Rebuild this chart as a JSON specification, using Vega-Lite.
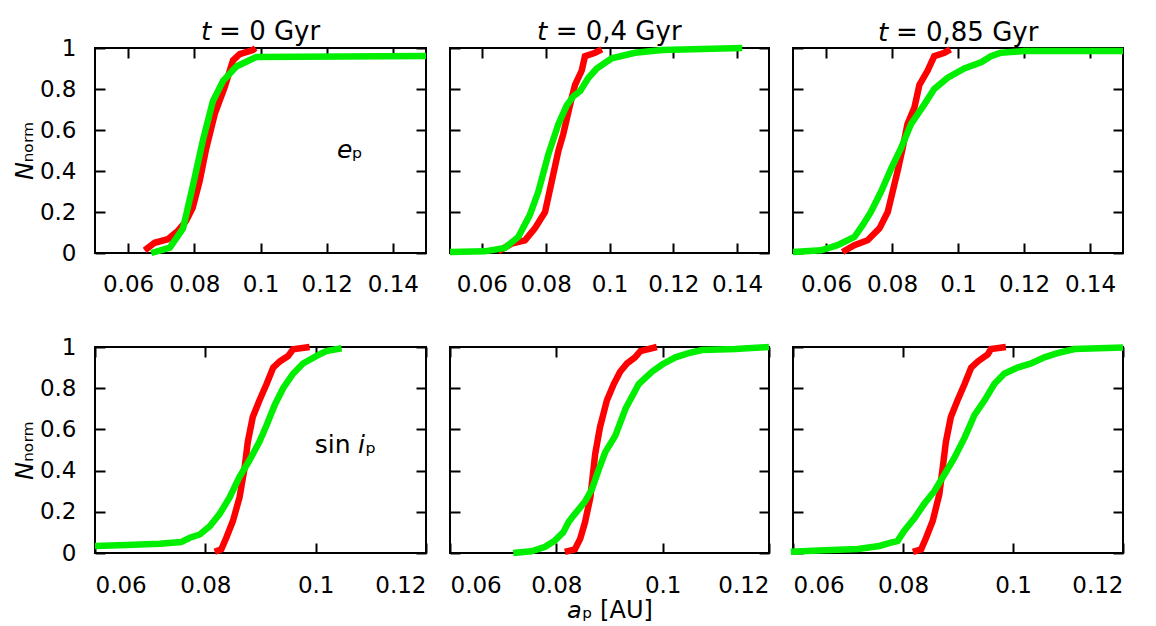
{
  "$schema": "https://vega.github.io/schema/vega-lite/v6.json",
  "background": "white",
  "padding": {"left": 12, "top": 18, "right": 5, "bottom": 5},
  "config": {
    "font": "DejaVu Sans",
    "view": {"stroke": "#000", "strokeWidth": 2},
    "axis": {"grid": false, "domain": false, "tickColor": "#000", "tickWidth": 2, "tickSize": -10, "labelFont": "DejaVu Sans", "labelFontSize": 23, "labelColor": "#000", "titleFont": "DejaVu Sans", "titleFontSize": 24, "titleFontWeight": "normal", "titleColor": "#000"},
    "title": {"font": "DejaVu Sans", "fontSize": 26, "fontWeight": "normal", "color": "#000", "offset": -10, "frame": "group", "baseline": "alphabetic"},
    "line": {"strokeWidth": 6.5, "clip": true, "strokeCap": "butt"},
    "text": {"font": "DejaVu Sans", "fontSize": 25, "color": "#000"}
  },
  "datasets": {
    "p1": [
      {"s":"r","x":0.065,"y":0.013},{"s":"r","x":0.068,"y":0.05},{"s":"r","x":0.072,"y":0.067},{"s":"r","x":0.075,"y":0.107},{"s":"r","x":0.0775,"y":0.156},{"s":"r","x":0.0795,"y":0.22},{"s":"r","x":0.0816,"y":0.35},{"s":"r","x":0.0836,"y":0.51},{"s":"r","x":0.0862,"y":0.68},{"s":"r","x":0.0892,"y":0.81},{"s":"r","x":0.0917,"y":0.94},{"s":"r","x":0.0937,"y":0.97},{"s":"r","x":0.0977,"y":0.99},{"s":"r","x":0.0985,"y":1.0},
      {"s":"g","x":0.067,"y":0.0},{"s":"g","x":0.0726,"y":0.026},{"s":"g","x":0.0766,"y":0.12},{"s":"g","x":0.0796,"y":0.33},{"s":"g","x":0.0826,"y":0.55},{"s":"g","x":0.0856,"y":0.74},{"s":"g","x":0.0887,"y":0.84},{"s":"g","x":0.0927,"y":0.91},{"s":"g","x":0.0987,"y":0.956},{"s":"g","x":0.15,"y":0.961}
    ],
    "p2": [
      {"s":"r","x":0.0651,"y":0.008},{"s":"r","x":0.0693,"y":0.046},{"s":"r","x":0.0735,"y":0.062},{"s":"r","x":0.0766,"y":0.12},{"s":"r","x":0.0798,"y":0.2},{"s":"r","x":0.0819,"y":0.35},{"s":"r","x":0.084,"y":0.5},{"s":"r","x":0.0855,"y":0.58},{"s":"r","x":0.087,"y":0.68},{"s":"r","x":0.0882,"y":0.76},{"s":"r","x":0.0892,"y":0.82},{"s":"r","x":0.0913,"y":0.89},{"s":"r","x":0.0923,"y":0.96},{"s":"r","x":0.0955,"y":0.977},{"s":"r","x":0.0976,"y":0.993},
      {"s":"g","x":0.05,"y":0.005},{"s":"g","x":0.0609,"y":0.008},{"s":"g","x":0.0672,"y":0.025},{"s":"g","x":0.0714,"y":0.078},{"s":"g","x":0.075,"y":0.185},{"s":"g","x":0.0777,"y":0.3},{"s":"g","x":0.0808,"y":0.48},{"s":"g","x":0.084,"y":0.63},{"s":"g","x":0.0866,"y":0.72},{"s":"g","x":0.0887,"y":0.765},{"s":"g","x":0.0908,"y":0.79},{"s":"g","x":0.0934,"y":0.855},{"s":"g","x":0.096,"y":0.9},{"s":"g","x":0.1007,"y":0.95},{"s":"g","x":0.108,"y":0.977},{"s":"g","x":0.1165,"y":0.99},{"s":"g","x":0.1416,"y":1.0}
    ],
    "p3": [
      {"s":"r","x":0.065,"y":0.005},{"s":"r","x":0.0686,"y":0.038},{"s":"r","x":0.0726,"y":0.062},{"s":"r","x":0.0762,"y":0.12},{"s":"r","x":0.0787,"y":0.2},{"s":"r","x":0.0802,"y":0.3},{"s":"r","x":0.0817,"y":0.4},{"s":"r","x":0.0832,"y":0.51},{"s":"r","x":0.0847,"y":0.63},{"s":"r","x":0.0868,"y":0.71},{"s":"r","x":0.0883,"y":0.82},{"s":"r","x":0.0908,"y":0.89},{"s":"r","x":0.0928,"y":0.96},{"s":"r","x":0.0959,"y":0.977},{"s":"r","x":0.0977,"y":0.993},
      {"s":"g","x":0.05,"y":0.005},{"s":"g","x":0.0585,"y":0.013},{"s":"g","x":0.0635,"y":0.038},{"s":"g","x":0.0686,"y":0.078},{"s":"g","x":0.0711,"y":0.136},{"s":"g","x":0.0736,"y":0.2},{"s":"g","x":0.0767,"y":0.3},{"s":"g","x":0.0797,"y":0.41},{"s":"g","x":0.0827,"y":0.51},{"s":"g","x":0.0858,"y":0.63},{"s":"g","x":0.0898,"y":0.725},{"s":"g","x":0.0928,"y":0.8},{"s":"g","x":0.0969,"y":0.855},{"s":"g","x":0.1019,"y":0.9},{"s":"g","x":0.107,"y":0.93},{"s":"g","x":0.11,"y":0.96},{"s":"g","x":0.113,"y":0.977},{"s":"g","x":0.1201,"y":0.985},{"s":"g","x":0.15,"y":0.985}
    ],
    "p4": [
      {"s":"r","x":0.0817,"y":0.006},{"s":"r","x":0.0829,"y":0.018},{"s":"r","x":0.0838,"y":0.074},{"s":"r","x":0.085,"y":0.155},{"s":"r","x":0.0862,"y":0.27},{"s":"r","x":0.0871,"y":0.41},{"s":"r","x":0.0877,"y":0.54},{"s":"r","x":0.0886,"y":0.66},{"s":"r","x":0.0898,"y":0.74},{"s":"r","x":0.0911,"y":0.82},{"s":"r","x":0.0923,"y":0.9},{"s":"r","x":0.0935,"y":0.93},{"s":"r","x":0.095,"y":0.956},{"s":"r","x":0.0959,"y":0.989},{"s":"r","x":0.0989,"y":1.0},
      {"s":"g","x":0.06,"y":0.034},{"s":"g","x":0.0657,"y":0.039},{"s":"g","x":0.0717,"y":0.045},{"s":"g","x":0.0756,"y":0.053},{"s":"g","x":0.0772,"y":0.074},{"s":"g","x":0.079,"y":0.09},{"s":"g","x":0.0808,"y":0.13},{"s":"g","x":0.0826,"y":0.19},{"s":"g","x":0.0844,"y":0.27},{"s":"g","x":0.0862,"y":0.37},{"s":"g","x":0.088,"y":0.45},{"s":"g","x":0.0898,"y":0.54},{"s":"g","x":0.0911,"y":0.62},{"s":"g","x":0.0926,"y":0.72},{"s":"g","x":0.0941,"y":0.8},{"s":"g","x":0.0959,"y":0.87},{"s":"g","x":0.0977,"y":0.92},{"s":"g","x":0.1001,"y":0.956},{"s":"g","x":0.1019,"y":0.98},{"s":"g","x":0.1047,"y":0.994}
    ],
    "p5": [
      {"s":"r","x":0.0816,"y":0.005},{"s":"r","x":0.0835,"y":0.018},{"s":"r","x":0.0845,"y":0.07},{"s":"r","x":0.0854,"y":0.15},{"s":"r","x":0.0864,"y":0.27},{"s":"r","x":0.0873,"y":0.48},{"s":"r","x":0.0882,"y":0.61},{"s":"r","x":0.0895,"y":0.74},{"s":"r","x":0.0908,"y":0.82},{"s":"r","x":0.092,"y":0.88},{"s":"r","x":0.0933,"y":0.92},{"s":"r","x":0.0948,"y":0.95},{"s":"r","x":0.0958,"y":0.98},{"s":"r","x":0.0989,"y":1.0},
      {"s":"g","x":0.0719,"y":0.0},{"s":"g","x":0.0753,"y":0.008},{"s":"g","x":0.0779,"y":0.03},{"s":"g","x":0.0797,"y":0.06},{"s":"g","x":0.0813,"y":0.1},{"s":"g","x":0.0823,"y":0.15},{"s":"g","x":0.0835,"y":0.19},{"s":"g","x":0.0854,"y":0.25},{"s":"g","x":0.0867,"y":0.31},{"s":"g","x":0.0879,"y":0.4},{"s":"g","x":0.0892,"y":0.49},{"s":"g","x":0.0911,"y":0.57},{"s":"g","x":0.093,"y":0.7},{"s":"g","x":0.0955,"y":0.82},{"s":"g","x":0.098,"y":0.88},{"s":"g","x":0.0999,"y":0.915},{"s":"g","x":0.1024,"y":0.95},{"s":"g","x":0.1049,"y":0.97},{"s":"g","x":0.1074,"y":0.985},{"s":"g","x":0.1137,"y":0.99},{"s":"g","x":0.12,"y":1.0}
    ],
    "p6": [
      {"s":"r","x":0.0818,"y":0.006},{"s":"r","x":0.0833,"y":0.018},{"s":"r","x":0.0842,"y":0.074},{"s":"r","x":0.0854,"y":0.155},{"s":"r","x":0.0866,"y":0.285},{"s":"r","x":0.0872,"y":0.41},{"s":"r","x":0.0878,"y":0.54},{"s":"r","x":0.0887,"y":0.66},{"s":"r","x":0.0899,"y":0.74},{"s":"r","x":0.0912,"y":0.82},{"s":"r","x":0.0924,"y":0.9},{"s":"r","x":0.0936,"y":0.93},{"s":"r","x":0.0954,"y":0.964},{"s":"r","x":0.096,"y":0.99},{"s":"r","x":0.0987,"y":1.0},
      {"s":"g","x":0.0596,"y":0.006},{"s":"g","x":0.0657,"y":0.013},{"s":"g","x":0.0718,"y":0.019},{"s":"g","x":0.0757,"y":0.034},{"s":"g","x":0.0778,"y":0.05},{"s":"g","x":0.079,"y":0.058},{"s":"g","x":0.0802,"y":0.107},{"s":"g","x":0.0821,"y":0.17},{"s":"g","x":0.0839,"y":0.24},{"s":"g","x":0.0857,"y":0.3},{"s":"g","x":0.0875,"y":0.38},{"s":"g","x":0.0893,"y":0.46},{"s":"g","x":0.0912,"y":0.56},{"s":"g","x":0.093,"y":0.67},{"s":"g","x":0.0948,"y":0.74},{"s":"g","x":0.0966,"y":0.82},{"s":"g","x":0.0984,"y":0.87},{"s":"g","x":0.1008,"y":0.9},{"s":"g","x":0.1033,"y":0.92},{"s":"g","x":0.1057,"y":0.95},{"s":"g","x":0.1081,"y":0.97},{"s":"g","x":0.1112,"y":0.99},{"s":"g","x":0.12,"y":0.997}
    ],
    "ann1": [{"label": "\ud835\ude26\u209a", "x": 0.127, "y": 0.463}],
    "ann4": [{"label": "sin \ud835\ude2a\u209a", "x": 0.1054, "y": 0.487}]
  },
  "bounds": "flush",
  "align": "each",
  "columns": 3,
  "spacing": {"row": 94, "column": 24},
  "concat": [
    {
      "width": 331, "height": 205,
      "title": {"text": "\ud835\ude35 = 0 Gyr"},
      "layer": [
        {"data": {"name": "p1"}, "transform": [{"filter": "datum.s === 'r'"}], "mark": {"type": "line", "color": "#ff0000"},
         "encoding": {"x": {"field": "x", "type": "quantitative", "scale": {"domain": [0.05, 0.15], "nice": false, "zero": false}, "axis": {"orient": "bottom", "values": [0.06, 0.08, 0.1, 0.12, 0.14], "format": ".2~f", "labelPadding": 30, "title": null}},
                      "y": {"field": "y", "type": "quantitative", "scale": {"domain": [0, 1], "nice": false}, "axis": {"orient": "left", "values": [0, 0.2, 0.4, 0.6, 0.8, 1], "format": ".1~f", "labelPadding": 29, "title": "\ud835\ude15\u2099\u2092\u1d63\u2098", "titlePadding": 2}}}},
        {"data": {"name": "p1"}, "transform": [{"filter": "datum.s === 'g'"}], "mark": {"type": "line", "color": "#00ee00"},
         "encoding": {"x": {"field": "x", "type": "quantitative", "scale": {"domain": [0.05, 0.15], "nice": false, "zero": false}, "axis": {"orient": "top", "values": [0.06, 0.08, 0.1, 0.12, 0.14], "labels": false, "title": null}},
                      "y": {"field": "y", "type": "quantitative", "scale": {"domain": [0, 1], "nice": false}, "axis": {"orient": "right", "values": [0, 0.2, 0.4, 0.6, 0.8, 1], "labels": false, "title": null}}}},
        {"data": {"name": "ann1"}, "mark": {"type": "text", "align": "center", "baseline": "alphabetic"},
         "encoding": {"x": {"field": "x", "type": "quantitative", "axis": null}, "y": {"field": "y", "type": "quantitative", "axis": null}, "text": {"field": "label"}}}
      ],
      "resolve": {"axis": {"x": "independent", "y": "independent"}}
    },
    {
      "width": 319, "height": 205,
      "title": {"text": "\ud835\ude35 = 0,4 Gyr"},
      "layer": [
        {"data": {"name": "p2"}, "transform": [{"filter": "datum.s === 'r'"}], "mark": {"type": "line", "color": "#ff0000"},
         "encoding": {"x": {"field": "x", "type": "quantitative", "scale": {"domain": [0.05, 0.15], "nice": false, "zero": false}, "axis": {"orient": "bottom", "values": [0.06, 0.08, 0.1, 0.12, 0.14], "format": ".2~f", "labelPadding": 30, "title": null}},
                      "y": {"field": "y", "type": "quantitative", "scale": {"domain": [0, 1], "nice": false}, "axis": {"orient": "left", "values": [0, 0.2, 0.4, 0.6, 0.8, 1], "labels": false, "title": null}}}},
        {"data": {"name": "p2"}, "transform": [{"filter": "datum.s === 'g'"}], "mark": {"type": "line", "color": "#00ee00"},
         "encoding": {"x": {"field": "x", "type": "quantitative", "scale": {"domain": [0.05, 0.15], "nice": false, "zero": false}, "axis": {"orient": "top", "values": [0.06, 0.08, 0.1, 0.12, 0.14], "labels": false, "title": null}},
                      "y": {"field": "y", "type": "quantitative", "scale": {"domain": [0, 1], "nice": false}, "axis": {"orient": "right", "values": [0, 0.2, 0.4, 0.6, 0.8, 1], "labels": false, "title": null}}}}
      ],
      "resolve": {"axis": {"x": "independent", "y": "independent"}}
    },
    {
      "width": 330, "height": 205,
      "title": {"text": "\ud835\ude35 = 0,85 Gyr"},
      "layer": [
        {"data": {"name": "p3"}, "transform": [{"filter": "datum.s === 'r'"}], "mark": {"type": "line", "color": "#ff0000"},
         "encoding": {"x": {"field": "x", "type": "quantitative", "scale": {"domain": [0.05, 0.15], "nice": false, "zero": false}, "axis": {"orient": "bottom", "values": [0.06, 0.08, 0.1, 0.12, 0.14], "format": ".2~f", "labelPadding": 30, "title": null}},
                      "y": {"field": "y", "type": "quantitative", "scale": {"domain": [0, 1], "nice": false}, "axis": {"orient": "left", "values": [0, 0.2, 0.4, 0.6, 0.8, 1], "labels": false, "title": null}}}},
        {"data": {"name": "p3"}, "transform": [{"filter": "datum.s === 'g'"}], "mark": {"type": "line", "color": "#00ee00"},
         "encoding": {"x": {"field": "x", "type": "quantitative", "scale": {"domain": [0.05, 0.15], "nice": false, "zero": false}, "axis": {"orient": "top", "values": [0.06, 0.08, 0.1, 0.12, 0.14], "labels": false, "title": null}},
                      "y": {"field": "y", "type": "quantitative", "scale": {"domain": [0, 1], "nice": false}, "axis": {"orient": "right", "values": [0, 0.2, 0.4, 0.6, 0.8, 1], "labels": false, "title": null}}}}
      ],
      "resolve": {"axis": {"x": "independent", "y": "independent"}}
    },
    {
      "width": 331, "height": 206,
      "layer": [
        {"data": {"name": "p4"}, "transform": [{"filter": "datum.s === 'r'"}], "mark": {"type": "line", "color": "#ff0000"},
         "encoding": {"x": {"field": "x", "type": "quantitative", "scale": {"domain": [0.06, 0.12], "nice": false, "zero": false}, "axis": {"orient": "bottom", "values": [0.06, 0.08, 0.1, 0.12], "format": ".2~f", "labelPadding": 31, "title": null}},
                      "y": {"field": "y", "type": "quantitative", "scale": {"domain": [0, 1], "nice": false}, "axis": {"orient": "left", "values": [0, 0.2, 0.4, 0.6, 0.8, 1], "format": ".1~f", "labelPadding": 29, "title": "\ud835\ude15\u2099\u2092\u1d63\u2098", "titlePadding": 2}}}},
        {"data": {"name": "p4"}, "transform": [{"filter": "datum.s === 'g'"}], "mark": {"type": "line", "color": "#00ee00"},
         "encoding": {"x": {"field": "x", "type": "quantitative", "scale": {"domain": [0.06, 0.12], "nice": false, "zero": false}, "axis": {"orient": "top", "values": [0.06, 0.08, 0.1, 0.12], "labels": false, "title": null}},
                      "y": {"field": "y", "type": "quantitative", "scale": {"domain": [0, 1], "nice": false}, "axis": {"orient": "right", "values": [0, 0.2, 0.4, 0.6, 0.8, 1], "labels": false, "title": null}}}},
        {"data": {"name": "ann4"}, "mark": {"type": "text", "align": "center", "baseline": "alphabetic"},
         "encoding": {"x": {"field": "x", "type": "quantitative", "axis": null}, "y": {"field": "y", "type": "quantitative", "axis": null}, "text": {"field": "label"}}}
      ],
      "resolve": {"axis": {"x": "independent", "y": "independent"}}
    },
    {
      "width": 319, "height": 206,
      "layer": [
        {"data": {"name": "p5"}, "transform": [{"filter": "datum.s === 'r'"}], "mark": {"type": "line", "color": "#ff0000"},
         "encoding": {"x": {"field": "x", "type": "quantitative", "scale": {"domain": [0.06, 0.12], "nice": false, "zero": false}, "axis": {"orient": "bottom", "values": [0.06, 0.08, 0.1, 0.12], "format": ".2~f", "labelPadding": 31, "title": "\ud835\ude22\u209a [AU]", "titlePadding": 1}},
                      "y": {"field": "y", "type": "quantitative", "scale": {"domain": [0, 1], "nice": false}, "axis": {"orient": "left", "values": [0, 0.2, 0.4, 0.6, 0.8, 1], "labels": false, "title": null}}}},
        {"data": {"name": "p5"}, "transform": [{"filter": "datum.s === 'g'"}], "mark": {"type": "line", "color": "#00ee00"},
         "encoding": {"x": {"field": "x", "type": "quantitative", "scale": {"domain": [0.06, 0.12], "nice": false, "zero": false}, "axis": {"orient": "top", "values": [0.06, 0.08, 0.1, 0.12], "labels": false, "title": null}},
                      "y": {"field": "y", "type": "quantitative", "scale": {"domain": [0, 1], "nice": false}, "axis": {"orient": "right", "values": [0, 0.2, 0.4, 0.6, 0.8, 1], "labels": false, "title": null}}}}
      ],
      "resolve": {"axis": {"x": "independent", "y": "independent"}}
    },
    {
      "width": 330, "height": 206,
      "layer": [
        {"data": {"name": "p6"}, "transform": [{"filter": "datum.s === 'r'"}], "mark": {"type": "line", "color": "#ff0000"},
         "encoding": {"x": {"field": "x", "type": "quantitative", "scale": {"domain": [0.06, 0.12], "nice": false, "zero": false}, "axis": {"orient": "bottom", "values": [0.06, 0.08, 0.1, 0.12], "format": ".2~f", "labelPadding": 31, "title": null}},
                      "y": {"field": "y", "type": "quantitative", "scale": {"domain": [0, 1], "nice": false}, "axis": {"orient": "left", "values": [0, 0.2, 0.4, 0.6, 0.8, 1], "labels": false, "title": null}}}},
        {"data": {"name": "p6"}, "transform": [{"filter": "datum.s === 'g'"}], "mark": {"type": "line", "color": "#00ee00"},
         "encoding": {"x": {"field": "x", "type": "quantitative", "scale": {"domain": [0.06, 0.12], "nice": false, "zero": false}, "axis": {"orient": "top", "values": [0.06, 0.08, 0.1, 0.12], "labels": false, "title": null}},
                      "y": {"field": "y", "type": "quantitative", "scale": {"domain": [0, 1], "nice": false}, "axis": {"orient": "right", "values": [0, 0.2, 0.4, 0.6, 0.8, 1], "labels": false, "title": null}}}}
      ],
      "resolve": {"axis": {"x": "independent", "y": "independent"}}
    }
  ]
}
